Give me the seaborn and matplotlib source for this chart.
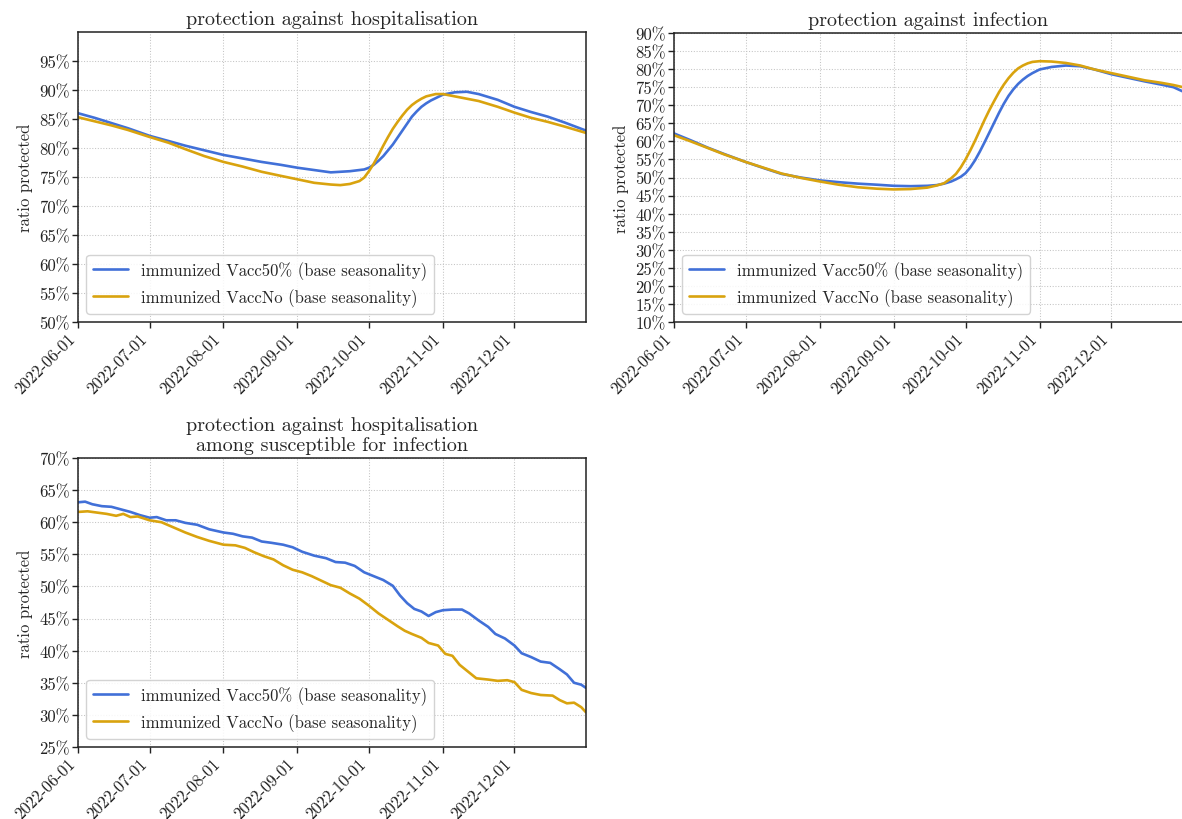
import matplotlib
matplotlib.use("Agg")
import matplotlib.pyplot as plt
import matplotlib.dates as mdates
from matplotlib.ticker import FixedLocator, FuncFormatter
import pandas as pd
import seaborn as sns

START = pd.Timestamp("2022-06-01")
END_DAY = 213

SERIES = ["immunized Vacc50% (base seasonality)", "immunized VaccNo (base seasonality)"]
COLORS = ["#4170d8", "#d9a30e"]

# protection against hospitalisation (days after 2022-06-01, percent)
hosp_days = [0, 7, 14, 21, 30, 38, 45, 53, 61, 69, 77, 85, 92, 99, 106,
             110, 114, 118, 120, 122, 124, 126, 128, 130, 132, 134, 136, 138, 140, 142,
             144, 146, 148, 150, 153,
             158, 163, 168, 176, 183, 190, 197, 204, 213]
hosp_vacc50 = [86.0, 85.2, 84.3, 83.4, 82.1, 81.2, 80.4, 79.6, 78.8, 78.2, 77.6, 77.1, 76.6, 76.2, 75.8,
               75.9, 76.0, 76.2, 76.3, 76.6, 77.1, 77.8, 78.6, 79.6, 80.6, 81.8, 83.0, 84.2, 85.4, 86.3,
               87.1, 87.7, 88.2, 88.6, 89.2,
               89.6, 89.7, 89.3, 88.3, 87.1, 86.2, 85.4, 84.4, 83.0]
hosp_vaccno = [85.3, 84.6, 83.9, 83.1, 81.9, 80.9, 79.8, 78.6, 77.6, 76.8, 75.9, 75.2, 74.6, 74.0, 73.7,
               73.6, 73.8, 74.3, 74.9, 76.0, 77.3, 78.8, 80.4, 81.9, 83.3, 84.5, 85.6, 86.6, 87.4, 88.0,
               88.5, 88.9, 89.1, 89.3, 89.3,
               88.9, 88.5, 88.1, 87.1, 86.1, 85.2, 84.5, 83.7, 82.6]

# protection against infection
inf_days = [0, 7, 14, 21, 30, 38, 45, 53, 61, 69, 77, 85, 92, 99, 106,
            110, 113, 116, 118, 120, 122, 124, 126, 128, 130, 132, 134, 136, 138, 140,
            142, 144, 146, 148, 150, 153,
            158, 164, 170, 176, 183, 190, 197, 204, 209, 213]
inf_vacc50 = [62.2, 60.3, 58.3, 56.5, 54.3, 52.5, 51.0, 50.0, 49.2, 48.7, 48.3, 48.0, 47.7, 47.6, 47.7,
              47.9, 48.3, 48.9, 49.5, 50.2, 51.2, 52.8, 54.8, 57.2, 59.8, 62.5, 65.2, 67.9, 70.4, 72.6,
              74.4, 75.9, 77.1, 78.1, 78.9, 79.9,
              80.6, 81.0, 80.8, 79.9, 78.6, 77.6, 76.6, 75.7, 75.0, 73.8]
inf_vaccno = [61.7, 60.0, 58.2, 56.4, 54.3, 52.6, 51.1, 49.9, 48.9, 48.0, 47.3, 46.9, 46.7, 46.8, 47.2,
              47.8, 48.4, 49.8, 51.0, 52.8, 55.0, 57.5, 60.2, 63.1, 66.0, 68.7, 71.2, 73.6, 75.7, 77.5,
              79.0, 80.2, 81.0, 81.6, 82.0, 82.2,
              82.1, 81.7, 81.0, 79.9, 78.9, 77.9, 76.9, 76.2, 75.6, 75.0]

# protection against hospitalisation among susceptible for infection
sus_days_a = [0, 3, 6, 10, 14, 18, 22, 26, 30, 33, 37, 41, 45, 50, 55, 61, 65, 69, 73,
              77, 81, 86, 90, 94, 99, 104, 108, 112, 116, 120, 124, 128, 132, 135, 138,
              141, 144, 147, 150, 153, 157, 161, 164, 168, 172, 175, 179, 183, 186, 190,
              194, 198, 202, 205, 208, 211, 213]
sus_vacc50 = [63.1, 63.2, 62.8, 62.5, 62.4, 62.0, 61.6, 61.1, 60.7, 60.8, 60.3, 60.3,
              59.9, 59.6, 58.9, 58.4, 58.2, 57.8, 57.6, 57.0, 56.8, 56.5, 56.1, 55.4,
              54.8, 54.4, 53.8, 53.7, 53.2, 52.2, 51.6, 51.0, 50.1, 48.6, 47.4, 46.5,
              46.1, 45.4, 46.0, 46.3, 46.4, 46.4, 45.8, 44.7, 43.7, 42.6, 41.9, 40.8,
              39.6, 39.0, 38.3, 38.1, 37.1, 36.3, 35.0, 34.7, 34.2]
sus_days_b = [0, 4, 8, 12, 16, 19, 22, 25, 30, 35, 40, 45, 50, 55, 61, 66, 70, 74, 78,
              82, 86, 90, 94, 98, 102, 106, 110, 114, 118, 122, 126, 130, 134, 137, 140,
              144, 147, 151, 154, 157, 160, 164, 167, 172, 176, 180, 183, 186, 190, 194,
              199, 202, 205, 208, 211, 213]
sus_vaccno = [61.6, 61.7, 61.5, 61.3, 61.0, 61.3, 60.8, 60.9, 60.3, 60.0, 59.2, 58.4,
              57.7, 57.1, 56.5, 56.4, 56.0, 55.3, 54.7, 54.2, 53.3, 52.6, 52.2, 51.6,
              50.9, 50.2, 49.8, 48.9, 48.1, 47.0, 45.8, 44.8, 43.8, 43.1, 42.6, 42.0,
              41.2, 40.8, 39.5, 39.2, 37.8, 36.6, 35.7, 35.5, 35.3, 35.4, 35.1, 33.9,
              33.4, 33.1, 33.0, 32.3, 31.8, 31.9, 31.2, 30.4]

TICK_MONTHS = ["2022-06-01", "2022-07-01", "2022-08-01", "2022-09-01",
               "2022-10-01", "2022-11-01", "2022-12-01"]


def long_frame(pairs):
    rows = []
    for name, days, vals in pairs:
        for d, v in zip(days, vals):
            rows.append({"date": START + pd.Timedelta(days=d), "value": v, "series": name})
    return pd.DataFrame(rows)


sns.set_style("ticks")
plt.rcParams.update({
    "font.family": "cmr10",
    "mathtext.fontset": "cm",
    "axes.formatter.use_mathtext": True,
    "axes.unicode_minus": False,
    "axes.edgecolor": "#222222",
    "axes.linewidth": 1.1,
    "xtick.color": "#222222",
    "ytick.color": "#222222",
    "xtick.major.size": 4,
    "ytick.major.size": 4,
    "xtick.major.width": 1.0,
    "ytick.major.width": 1.0,
})

fig = plt.figure(figsize=(11.82, 8.20), dpi=100)
W, H = 1182, 820


def make_axes(left, top, right, bottom):
    return fig.add_axes([left / W, 1 - bottom / H, (right - left) / W, (bottom - top) / H])


panels = [
    dict(box=(78, 33, 586, 323), title="protection against hospitalisation",
         data=[(SERIES[0], hosp_days, hosp_vacc50), (SERIES[1], hosp_days, hosp_vaccno)],
         ylim=(50, 100), yticks=list(range(50, 100, 5))),
    dict(box=(674, 34, 1183, 323), title="protection against infection",
         data=[(SERIES[0], inf_days, inf_vacc50), (SERIES[1], inf_days, inf_vaccno)],
         ylim=(10, 90), yticks=list(range(10, 95, 5))),
    dict(box=(78, 459, 586, 748),
         title="protection against hospitalisation\namong susceptible for infection",
         data=[(SERIES[0], sus_days_a, sus_vacc50), (SERIES[1], sus_days_b, sus_vaccno)],
         ylim=(25, 70), yticks=list(range(25, 75, 5))),
]

for p in panels:
    ax = make_axes(*p["box"])
    df = long_frame(p["data"])
    sns.lineplot(data=df, x="date", y="value", hue="series", hue_order=SERIES,
                 palette=COLORS, linewidth=1.9, ax=ax, legend=False)
    ax.set_xlim(START, START + pd.Timedelta(days=END_DAY))
    ax.set_ylim(*p["ylim"])
    ax.yaxis.set_major_locator(FixedLocator(p["yticks"]))
    ax.yaxis.set_major_formatter(FuncFormatter(lambda v, pos: f"{v:.0f}%"))
    ax.set_xticks([pd.Timestamp(t) for t in TICK_MONTHS])
    ax.xaxis.set_major_formatter(mdates.DateFormatter("%Y-%m-%d"))
    for lab in ax.get_xticklabels():
        lab.set_rotation(45)
        lab.set_ha("right")
    ax.tick_params(axis="both", labelsize=12, pad=2)
    ax.grid(True, linestyle=":", color="#c4c4c4", linewidth=0.75)
    ax.set_axisbelow(True)
    ax.set_xlabel("")
    ax.set_ylabel("ratio protected", fontsize=12, labelpad=4)
    ax.set_title(p["title"], fontsize=14.5, pad=6, linespacing=1.1)
    handles = ax.get_lines()[:2]
    ax.legend(handles, SERIES, loc="lower left", fontsize=12, frameon=True,
              framealpha=0.85, edgecolor="#cccccc", fancybox=True,
              borderaxespad=0.5, handlelength=2.1)

fig.savefig("out.png", dpi=100)
